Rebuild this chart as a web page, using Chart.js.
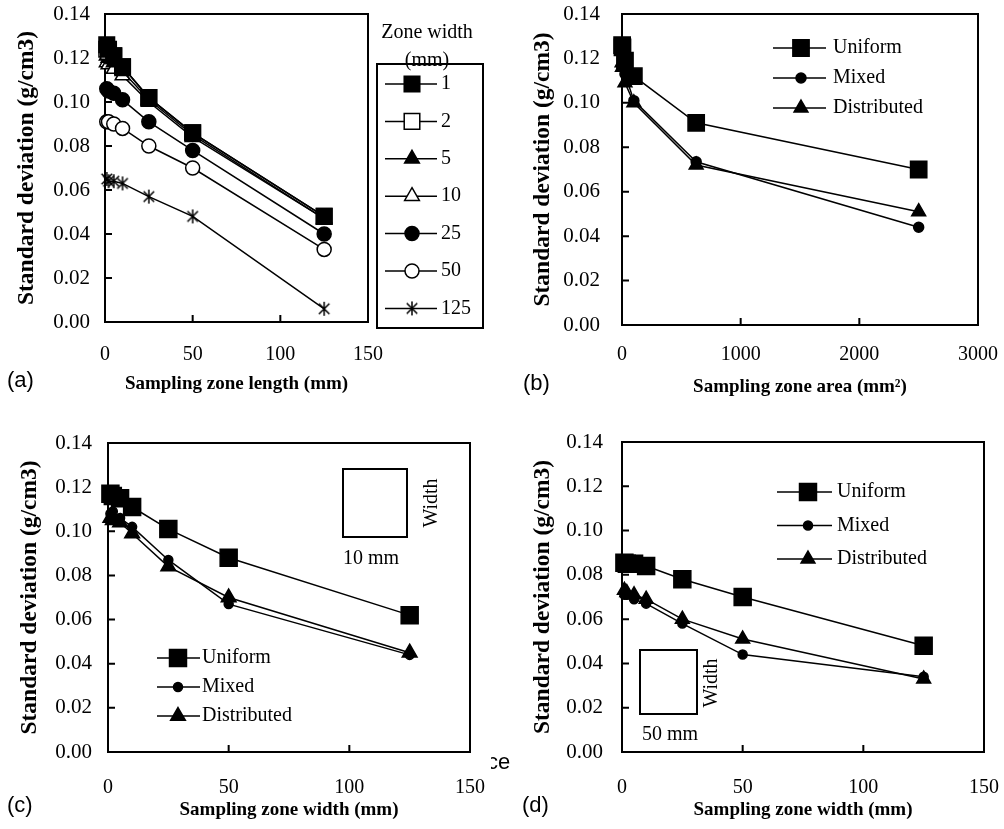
<!DOCTYPE html>
<html>
<head>
<meta charset="utf-8">
<script src="https://cdn.jsdelivr.net/npm/chart.js@4.4.1/dist/chart.umd.min.js"></script>
<style>
  body { margin: 0; background: #fff; }
  #page { position: relative; width: 1004px; height: 829px; overflow: hidden; background: #fff; }
  canvas { position: absolute; }
  .tag { position: absolute; font-family: "Liberation Sans", Arial, sans-serif; font-size: 22px; line-height: 28px; color: #000; white-space: nowrap; }
  .note { position: absolute; font-family: "Liberation Serif", "Times New Roman", serif; font-size: 20px; color: #000; white-space: nowrap; transform: translate(-50%, -50%); }
  .note.up { transform: translate(-50%, -50%) rotate(-90deg); }
  .sq { position: absolute; border: 2px solid #000; box-sizing: border-box; }
</style>
</head>
<body>
<div id="page">
  <canvas id="chartA" width="500" height="410" style="left:0;top:0"></canvas>
  <canvas id="chartB" width="504" height="410" style="left:500px;top:0"></canvas>
  <canvas id="chartC" width="500" height="409" style="left:0;top:420px"></canvas>
  <canvas id="chartD" width="504" height="409" style="left:500px;top:420px"></canvas>

  <div class="tag" style="left:7px;top:366px">(a)</div>
  <div class="tag" style="left:523px;top:369px">(b)</div>
  <div class="tag" style="left:7px;top:791px">(c)</div>
  <div class="tag" style="left:522px;top:791px">(d)</div>
  <div class="tag" style="left:491px;top:748px;width:22px;overflow:hidden"><span style="position:relative;left:-4px">ce</span></div>

  <div class="sq" style="left:342px;top:468px;width:66px;height:70px"></div>
  <div class="note" style="left:371px;top:557px">10 mm</div>
  <div class="note up" style="left:430px;top:503px">Width</div>

  <div class="sq" style="left:639px;top:649px;width:59px;height:66px"></div>
  <div class="note" style="left:670px;top:733px">50 mm</div>
  <div class="note up" style="left:710px;top:683px">Width</div>
</div>

<script>
// (a) sampling zone length, one series per zone width
const zoneLengths = [1, 2, 5, 10, 25, 50, 125];
const zoneWidthLabels = ["1", "2", "5", "10", "25", "50", "125"];
const sdWidth1 = [0.126, 0.124, 0.121, 0.116, 0.102, 0.086, 0.048];
const sdWidth2 = [0.124, 0.123, 0.121, 0.116, 0.102, 0.086, 0.048];
const sdWidth5 = [0.121, 0.120, 0.118, 0.114, 0.101, 0.085, 0.047];
const sdWidth10 = [0.118, 0.117, 0.115, 0.112, 0.100, 0.084, 0.047];
const sdWidth25 = [0.106, 0.105, 0.104, 0.101, 0.091, 0.078, 0.040];
const sdWidth50 = [0.091, 0.091, 0.090, 0.088, 0.080, 0.070, 0.033];
const sdWidth125 = [0.065, 0.064, 0.064, 0.063, 0.057, 0.048, 0.006];

// (b) sampling zone area
const zoneAreas = [1, 4, 25, 100, 625, 2500];
const uniformB = [0.126, 0.125, 0.119, 0.112, 0.091, 0.070];
const mixedB = [0.122, 0.120, 0.113, 0.101, 0.0735, 0.044];
const distributedB = [0.118, 0.116, 0.109, 0.100, 0.072, 0.051];

// (c) and (d) sampling zone width
const zoneWidths = [1, 2, 5, 10, 25, 50, 125];
const uniformC = [0.117, 0.116, 0.115, 0.111, 0.101, 0.088, 0.062];
const mixedC = [0.108, 0.109, 0.106, 0.102, 0.087, 0.067, 0.044];
const distributedC = [0.106, 0.105, 0.104, 0.099, 0.084, 0.070, 0.045];

const uniformD = [0.0855, 0.085, 0.085, 0.084, 0.078, 0.070, 0.048];
const mixedD = [0.071, 0.071, 0.069, 0.067, 0.058, 0.044, 0.034];
const distributedD = [0.073, 0.072, 0.071, 0.069, 0.060, 0.051, 0.033];

const yTicks = [0, 0.02, 0.04, 0.06, 0.08, 0.1, 0.12, 0.14];
const typeLabels = ["Uniform", "Mixed", "Distributed"];

const SERIF = '"Liberation Serif", "Times New Roman", serif';

// asterisk marker for the 125 mm series
function makeAsterisk(size) {
  const c = document.createElement("canvas");
  c.width = size;
  c.height = size;
  const g = c.getContext("2d");
  const m = size / 2, r = size / 2 - 1;
  g.strokeStyle = "#000";
  g.lineWidth = 1.5;
  g.beginPath();
  g.moveTo(m, m - r); g.lineTo(m, m + r);
  g.moveTo(m - r * 0.75, m - r * 0.75); g.lineTo(m + r * 0.75, m + r * 0.75);
  g.moveTo(m + r * 0.75, m - r * 0.75); g.lineTo(m - r * 0.75, m + r * 0.75);
  g.stroke();
  return c;
}
const asterisk = makeAsterisk(16);

function series(label, xs, ys, style, radius, open) {
  return {
    label: label,
    data: xs.map((x, i) => ({ x: x, y: ys[i] })),
    showLine: true,
    borderColor: "#000",
    borderWidth: 1.5,
    pointStyle: style,
    pointRadius: radius,
    pointHoverRadius: radius,
    pointBackgroundColor: open ? "#fff" : "#000",
    pointBorderColor: "#000",
    pointBorderWidth: 1.5,
    clip: false,
  };
}

// box round the plot area + inward tick marks
const framePlugin = {
  id: "frame",
  beforeDatasetsDraw(chart) {
    const { ctx, chartArea: a, scales } = chart;
    ctx.save();
    ctx.strokeStyle = "#000";
    ctx.lineWidth = 2;
    ctx.strokeRect(a.left, a.top, a.right - a.left, a.bottom - a.top);
    ctx.beginPath();
    scales.y.ticks.forEach((t) => {
      const py = scales.y.getPixelForValue(t.value);
      ctx.moveTo(a.left, py);
      ctx.lineTo(a.left + 7, py);
    });
    scales.x.ticks.forEach((t) => {
      const px = scales.x.getPixelForValue(t.value);
      ctx.moveTo(px, a.bottom);
      ctx.lineTo(px, a.bottom - 7);
    });
    ctx.stroke();
    ctx.restore();
  },
};

// line-through-marker legend drawn at fixed spots
const markLegend = {
  id: "markLegend",
  afterDraw(chart, args, opts) {
    if (!opts.y0) return;
    const ctx = chart.ctx;
    ctx.save();
    ctx.fillStyle = "#000";
    ctx.textBaseline = "middle";
    ctx.font = "20px " + SERIF;
    (opts.heading || []).forEach((h) => {
      ctx.textAlign = "center";
      ctx.fillText(h.text, h.x, h.y);
    });
    if (opts.box) {
      ctx.strokeStyle = "#000";
      ctx.lineWidth = 2;
      ctx.strokeRect(opts.box[0], opts.box[1], opts.box[2], opts.box[3]);
    }
    chart.data.datasets.forEach((ds, i) => {
      const y = opts.y0 + i * opts.dy;
      ctx.strokeStyle = "#000";
      ctx.lineWidth = 1.5;
      ctx.beginPath();
      ctx.moveTo(opts.x1, y);
      ctx.lineTo(opts.x2, y);
      ctx.stroke();
      ctx.fillStyle = ds.pointBackgroundColor;
      ctx.lineWidth = ds.pointBorderWidth;
      Chart.helpers.drawPoint(ctx, {
        pointStyle: ds.pointStyle,
        radius: ds.pointRadius,
        rotation: 0,
        borderWidth: ds.pointBorderWidth,
      }, opts.xm, y);
      ctx.fillStyle = "#000";
      ctx.textAlign = "left";
      ctx.fillText(ds.label, opts.tx, y);
    });
    ctx.restore();
  },
};

function makePanel(id, datasets, g) {
  return new Chart(document.getElementById(id), {
    type: "scatter",
    data: { datasets: datasets },
    plugins: [framePlugin, markLegend],
    options: {
      responsive: false,
      animation: false,
      devicePixelRatio: 1,
      layout: { padding: g.padding },
      plugins: {
        legend: { display: false },
        tooltip: { enabled: false },
        markLegend: g.legend,
      },
      scales: {
        x: {
          type: "linear",
          min: 0,
          max: g.xMax,
          grid: { display: false, drawTicks: false },
          border: { display: false },
          ticks: {
            stepSize: g.xStep,
            padding: g.xTickPad,
            color: "#000",
            font: { family: SERIF, size: 20 },
            maxRotation: 0,
            callback: (v) => String(v),
          },
          title: {
            display: true,
            text: g.xTitle,
            color: "#000",
            font: { family: SERIF, size: 19, weight: "bold" },
            padding: { top: 0, bottom: g.xTitlePad },
          },
          afterFit: (s) => {
            s.height = g.xHeight;
            s.paddingLeft = 0;
            s.paddingRight = 0;
          },
        },
        y: {
          type: "linear",
          min: 0,
          max: 0.14,
          grid: { display: false, drawTicks: false },
          border: { display: false },
          afterBuildTicks: (s) => { s.ticks = yTicks.map((v) => ({ value: v })); },
          ticks: {
            padding: g.yTickPad,
            color: "#000",
            font: { family: SERIF, size: 21 },
            callback: (v) => Number(v).toFixed(2),
          },
          title: {
            display: true,
            text: "Standard deviation (g/cm3)",
            color: "#000",
            font: { family: SERIF, size: 23.5, weight: "bold" },
            padding: { top: g.yTitlePad, bottom: 0 },
          },
          afterFit: (s) => {
            s.width = g.yWidth;
            s.paddingTop = 0;
            s.paddingBottom = 0;
          },
        },
      },
    },
  });
}

// (a)
const sdByWidth = [sdWidth1, sdWidth2, sdWidth5, sdWidth10, sdWidth25, sdWidth50, sdWidth125];
const stylesA = [
  ["rect", 11, false], ["rect", 11, true], ["triangle", 8.5, false], ["triangle", 8.5, true],
  ["circle", 7, false], ["circle", 7, true], [asterisk, 8, false],
];
makePanel("chartA",
  sdByWidth.map((ys, i) => series(zoneWidthLabels[i], zoneLengths, ys, stylesA[i][0], stylesA[i][1], stylesA[i][2])),
  {
    padding: { left: 0, top: 14, right: 132, bottom: 0 },
    yWidth: 105, xHeight: 88, yTickPad: 15, xTickPad: 21, yTitlePad: 13, xTitlePad: 15,
    xMax: 150, xStep: 50, xTitle: "Sampling zone length (mm)",
    legend: {
      y0: 84, dy: 37.4, x1: 385, x2: 437, xm: 412, tx: 441,
      box: [377, 64, 106, 264],
      heading: [{ text: "Zone width", x: 427, y: 33 }, { text: "(mm)", x: 427, y: 61 }],
    },
  });

// (b)
makePanel("chartB", [
  series(typeLabels[0], zoneAreas, uniformB, "rect", 11.5, false),
  series(typeLabels[1], zoneAreas, mixedB, "circle", 5, false),
  series(typeLabels[2], zoneAreas, distributedB, "triangle", 8, false),
], {
  padding: { left: 0, top: 14, right: 26, bottom: 0 },
  yWidth: 122, xHeight: 85, yTickPad: 22, xTickPad: 18, yTitlePad: 29, xTitlePad: 12,
  xMax: 3000, xStep: 1000, xTitle: "Sampling zone area (mm\u00B2)",
  legend: { y0: 48, dy: 30, x1: 273, x2: 326, xm: 301, tx: 333 },
});

// (c)
makePanel("chartC", [
  series(typeLabels[0], zoneWidths, uniformC, "rect", 12, false),
  series(typeLabels[1], zoneWidths, mixedC, "circle", 4.5, false),
  series(typeLabels[2], zoneWidths, distributedC, "triangle", 8.5, false),
], {
  padding: { left: 0, top: 23, right: 30, bottom: 0 },
  yWidth: 108, xHeight: 77, yTickPad: 16, xTickPad: 24, yTitlePad: 16, xTitlePad: 8,
  xMax: 150, xStep: 50, xTitle: "Sampling zone width (mm)",
  legend: { y0: 238, dy: 29, x1: 157, x2: 200, xm: 178, tx: 202 },
});

// (d)
makePanel("chartD", [
  series(typeLabels[0], zoneWidths, uniformD, "rect", 12, false),
  series(typeLabels[1], zoneWidths, mixedD, "circle", 4.5, false),
  series(typeLabels[2], zoneWidths, distributedD, "triangle", 8, false),
], {
  padding: { left: 0, top: 22, right: 20, bottom: 0 },
  yWidth: 122, xHeight: 77, yTickPad: 19, xTickPad: 24, yTitlePad: 29, xTitlePad: 8,
  xMax: 150, xStep: 50, xTitle: "Sampling zone width (mm)",
  legend: { y0: 72, dy: 33.5, x1: 277, x2: 332, xm: 308, tx: 337 },
});
</script>
</body>
</html>
